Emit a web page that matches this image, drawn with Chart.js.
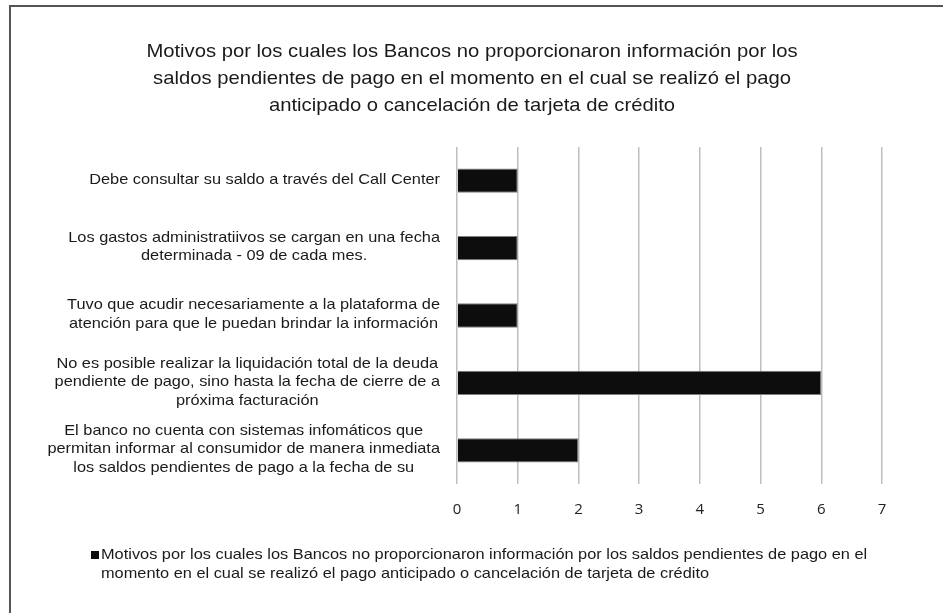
<!DOCTYPE html>
<html>
<head>
<meta charset="utf-8">
<title>Motivos</title>
<script src="https://cdn.jsdelivr.net/npm/chart.js@4.4.1/dist/chart.umd.min.js"></script>
<style>
  html, body { margin: 0; padding: 0; background: #fff; overflow: hidden; }
  #frame { position: absolute; left: 9px; top: 5px; width: 1000px; height: 700px; border: 2px solid #555; }
  #myChart { position: absolute; left: 0; top: 0; }
</style>
</head>
<body>
<div id="frame"></div>
<canvas id="myChart" width="943" height="613"></canvas>
<script>
const categories = [
    ["Debe consultar su saldo a través del Call Center"],
    ["Los gastos administratiivos se cargan en una fecha", "determinada - 09 de cada mes."],
    ["Tuvo que acudir necesariamente a la plataforma de", "atención para que le puedan brindar la información"],
    ["No es posible realizar la liquidación total de la deuda", "pendiente de pago, sino hasta la fecha de cierre de a", "próxima facturación"],
    ["El banco no cuenta con sistemas infomáticos que", "permitan informar al consumidor de manera inmediata", "los saldos pendientes de pago a la fecha de su"]
];
const values = [1, 1, 1, 6, 2];
const titleLines = [
    "Motivos por los cuales los Bancos no proporcionaron información por los",
    "saldos pendientes de pago en el momento en el cual se realizó el pago",
    "anticipado o cancelación de tarjeta de crédito"
];
const legendLines = [
    "Motivos por los cuales los Bancos no proporcionaron información por los saldos pendientes de pago en el",
    "momento en el cual se realizó el pago anticipado o cancelación de tarjeta de crédito"
];
const xMin = 0;
const xMax = 7;

const FONT = "'Liberation Sans', Arial, sans-serif";
const TEXT = "#1a1a1a";

// the source text is a bit wider than Liberation Sans, so stretch it sideways
function stretchedText(ctx, text, x, y, sx) {
    ctx.save();
    ctx.translate(x, y);
    ctx.scale(sx, 1);
    ctx.fillText(text, 0, 0);
    ctx.restore();
}

const titleText = {
    id: 'titleText',
    afterDraw(chart) {
        const ctx = chart.ctx;
        ctx.save();
        ctx.font = "19px " + FONT;
        ctx.fillStyle = TEXT;
        ctx.textAlign = "center";
        ctx.textBaseline = "middle";
        titleLines.forEach((l, j) => stretchedText(ctx, l, 472, 52 + j * 27, 1.065));
        ctx.restore();
    }
};

// excel style category labels: block right aligned, lines centered inside it
const categoryLabels = {
    id: 'categoryLabels',
    afterDraw(chart) {
        const ctx = chart.ctx;
        const yScale = chart.scales.y;
        const sx = 1.09;
        ctx.save();
        ctx.font = "15px " + FONT;
        ctx.fillStyle = TEXT;
        ctx.textAlign = "center";
        ctx.textBaseline = "middle";
        const right = chart.chartArea.left - 17;
        const lh = 18.5;
        categories.forEach((lines, i) => {
            const cy = yScale.getPixelForValue(i);
            const w = Math.max(...lines.map(l => ctx.measureText(l).width)) * sx;
            const cx = right - w / 2;
            const y0 = cy - (lines.length - 1) * lh / 2 - 1;
            lines.forEach((l, j) => stretchedText(ctx, l, cx, y0 + j * lh, sx));
        });
        ctx.restore();
    }
};

// legend drawn by hand so the long series name can wrap
const wrappedLegend = {
    id: 'wrappedLegend',
    afterDraw(chart) {
        const ctx = chart.ctx;
        ctx.save();
        ctx.font = "15px " + FONT;
        ctx.fillStyle = "#0d0d0d";
        ctx.fillRect(91, 551, 8, 8);
        ctx.fillStyle = TEXT;
        ctx.textAlign = "left";
        ctx.textBaseline = "middle";
        legendLines.forEach((l, j) => stretchedText(ctx, l, 101, 555 + j * 18.5, 1.09));
        ctx.restore();
    }
};

new Chart(document.getElementById("myChart"), {
    type: 'bar',
    data: {
        labels: categories,
        datasets: [{
            label: legendLines.join(' '),
            data: values,
            backgroundColor: "#0d0d0d",
            borderColor: "#7f7f7f",
            borderWidth: 1,
            categoryPercentage: 1,
            barPercentage: 0.36
        }]
    },
    options: {
        indexAxis: 'y',
        responsive: false,
        animation: false,
        layout: { padding: { left: 40, right: 61, top: 147, bottom: 89 } },
        scales: {
            x: {
                min: xMin,
                max: xMax,
                ticks: { stepSize: 1, padding: 17, color: "#222", font: { family: "'Open Sans', sans-serif", size: 15 } },
                grid: { color: "#bfbfbf", lineWidth: 1.5, drawTicks: false },
                border: { display: false },
                afterFit: (scale) => { scale.height = 40; }
            },
            y: {
                ticks: { display: false },
                grid: { display: false },
                border: { display: false },
                afterFit: (scale) => { scale.width = 417; }
            }
        },
        plugins: {
            legend: { display: false },
            tooltip: { enabled: false },
            title: { display: false }
        }
    },
    plugins: [titleText, categoryLabels, wrappedLegend]
});
</script>
</body>
</html>
